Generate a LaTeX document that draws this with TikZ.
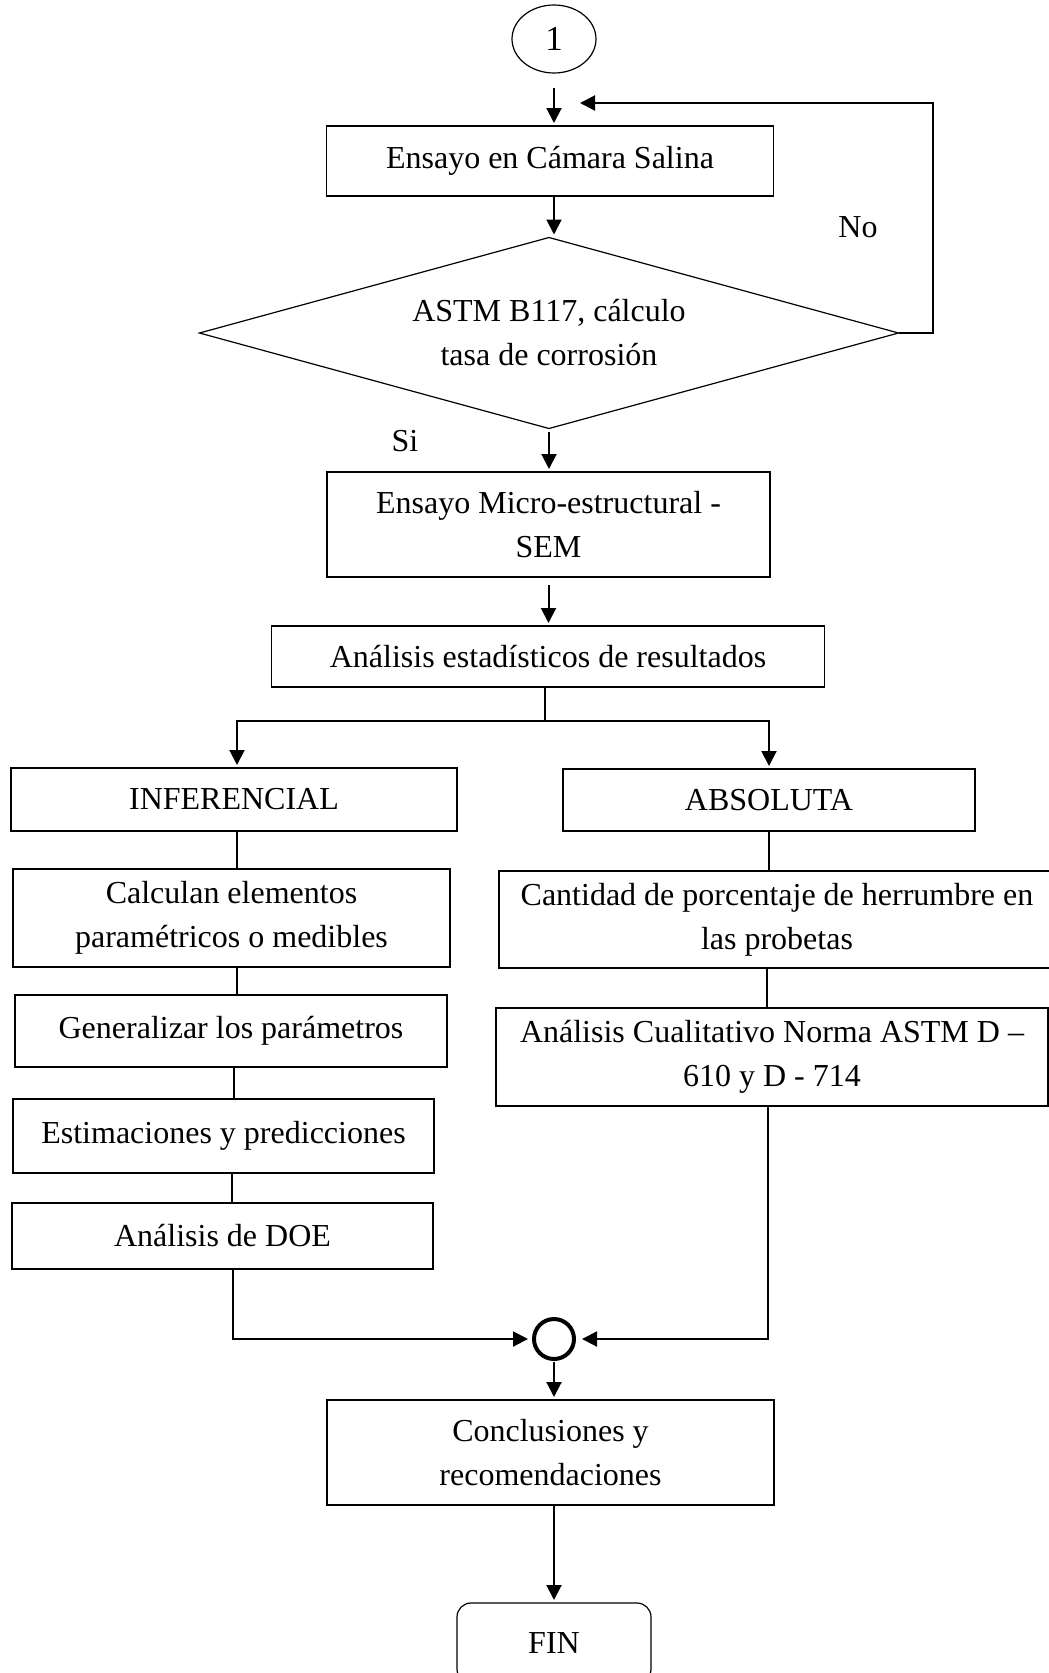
\documentclass[tikz,border=0pt]{standalone}
\usepackage{fontspec}
\setmainfont{Liberation Serif}
\usetikzlibrary{shapes.geometric,arrows.meta}
\begin{document}
\begin{tikzpicture}[x=1pt,y=-1pt,
  every node/.style={font=\fontsize{32}{44}\selectfont, inner sep=0pt, outer sep=0pt, align=center},
  box/.style={draw, line width=1.2pt, rectangle},
  link/.style={line width=1.2pt},
  arr/.style={line width=2pt, -{Triangle[length=15pt,width=15pt]}, shorten >=3pt},
  thk/.style={line width=2pt}]
\useasboundingbox (0,0) rectangle (1049,1673);
% nodes
\node[draw, line width=1.2pt, ellipse, minimum width=84pt, minimum height=68pt, font=\fontsize{35}{42}\selectfont] (c1) at (554,39) {1};
\node[box, minimum width=447pt, minimum height=70pt] (b1) at (550,161) {Ensayo en Cámara Salina};
\node[draw, line width=1.2pt, diamond, aspect=3.66, minimum width=699pt, minimum height=191pt] (d) at (549,333) {ASTM B117, cálculo\\tasa de corrosión};
\node[box, minimum width=443pt, minimum height=105pt] (b2) at (548.5,524.5) {Ensayo Micro-estructural -\\SEM};
\node[box, minimum width=553pt, minimum height=61pt] (b3) at (548,656.5) {Análisis estadísticos de resultados};
\node[box, minimum width=446pt, minimum height=63pt] (inf) at (234,799.5) {INFERENCIAL};
\node[box, minimum width=412pt, minimum height=62pt] (abs) at (769,800) {ABSOLUTA};
\node[box, minimum width=437pt, minimum height=98pt] (calc) at (231.5,918) {Calculan elementos\\paramétricos o medibles};
\node[box, minimum width=556pt, minimum height=97pt] (cant) at (777,919.5) {Cantidad de porcentaje de herrumbre en\\las probetas};
\node[box, minimum width=432pt, minimum height=72pt] (gen) at (231,1031) {Generalizar los parámetros};
\node[box, minimum width=552pt, minimum height=98pt] (cual) at (772,1057) {Análisis Cualitativo Norma ASTM D –\\610 y D - 714};
\node[box, minimum width=421pt, minimum height=74pt] (est) at (223.5,1136) {Estimaciones y predicciones};
\node[box, minimum width=421pt, minimum height=66pt] (doe) at (222.5,1236) {Análisis de DOE};
\node[draw, circle, line width=4pt, minimum size=40pt] (m) at (554,1339) {};
\node[box, minimum width=447pt, minimum height=105pt] (conc) at (550.5,1452.5) {Conclusiones y\\recomendaciones};
\node[draw, line width=1.2pt, rectangle, rounded corners=14pt, minimum width=194pt, minimum height=80pt] (fin) at (554,1643) {FIN};
\node (no) at (858,227) {No};
\node (si) at (405,441) {Si};
\coordinate (looptip) at (577,103);
% connectors
\draw[arr] ([yshift=-15pt]c1.south) -- (c1.south |- b1.north);
\draw[arr] (c1.south |- b1.south) -- (c1.south |- d.north);
\draw[arr] (d.east) -- ++(34,0) |- (looptip);
\draw[arr] ([yshift=-3pt]d.south) -- (d.south |- b2.north);
\draw[arr] ([yshift=-8pt]b2.south) -- (b2.south |- b3.north);
\draw[link] ([xshift=-3pt]b3.south) -- ++(0,34) coordinate (split);
\draw[arr] (split) -| ([xshift=3pt]inf.north);
\draw[arr] (split) -| (abs.north);
\draw[link] ([xshift=3pt]inf.south) -- ([xshift=3pt]inf.south |- calc.north);
\draw[link] ([xshift=3pt]inf.south |- calc.south) -- ([xshift=3pt]inf.south |- gen.north);
\draw[link] (inf.south |- gen.south) -- (inf.south |- est.north);
\draw[link] ([xshift=-2pt]inf.south |- est.south) -- ([xshift=-2pt]inf.south |- doe.north);
\draw[link] (abs.south) -- (abs.south |- cant.north);
\draw[link] ([xshift=-2pt]abs.south |- cant.south) -- ([xshift=-2pt]abs.south |- cual.north);
\draw[arr, shorten >=6pt] ([xshift=-1pt]inf.south |- doe.south) |- (m.west);
\draw[arr, shorten >=8pt] ([xshift=-1pt]abs.south |- cual.south) |- (m.east);
\draw[arr] ([yshift=-3pt]m.south) -- (m.south |- conc.north);
\draw[arr] (m.south |- conc.south) -- (fin.north);
\end{tikzpicture}
\end{document}
